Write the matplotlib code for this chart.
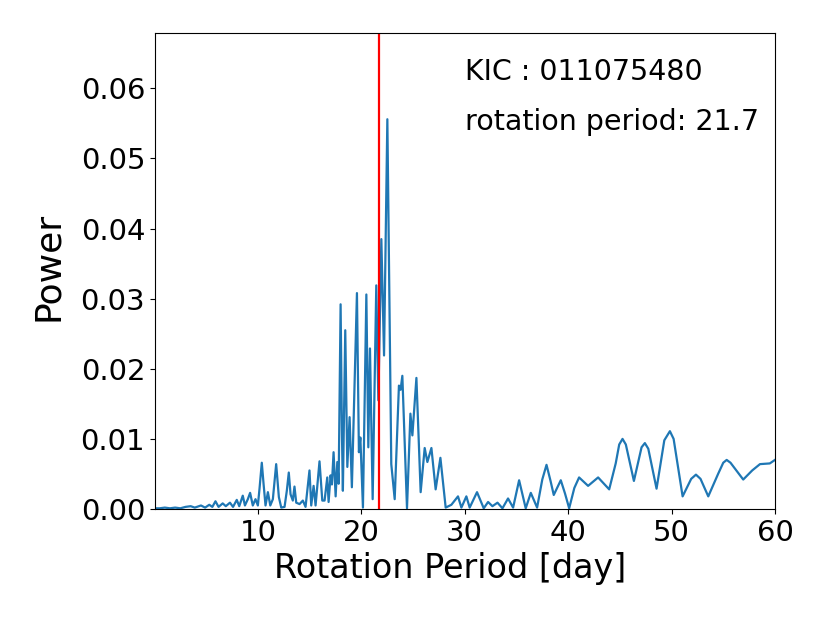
import matplotlib
matplotlib.use("Agg")
import matplotlib.pyplot as plt
import numpy as np

# periodogram (period in days, power)
period = [0.05, 0.5, 1.0, 1.5, 2.0, 2.5, 3.0, 3.5, 3.9, 4.5, 4.9, 5.3, 5.6, 5.9,
          6.2, 6.6, 6.9, 7.3, 7.6, 7.96, 8.2, 8.54, 8.75, 9.03, 9.25, 9.51, 9.77,
          10.0, 10.16, 10.38, 10.55, 10.74, 10.97, 11.2, 11.45, 11.77, 12.03,
          12.26, 12.58, 12.8, 12.99, 13.16, 13.38, 13.54, 13.71, 14.03, 14.35,
          14.61, 14.99, 15.16, 15.39, 15.58, 15.96, 16.23, 16.45, 16.71, 16.84,
          17.03, 17.16, 17.32, 17.52, 17.68, 17.81, 18.0, 18.13, 18.22, 18.45,
          18.65, 18.87, 19.09, 19.58, 19.77, 19.91, 20.16, 20.49, 20.68, 20.84,
          21.1, 21.45, 21.65, 21.94, 22.2, 22.52, 22.9, 23.23, 23.64, 23.8,
          23.97, 24.42, 24.75, 24.94, 25.33, 25.74, 26.13, 26.39, 26.78, 27.19,
          27.65, 28.16, 28.71, 29.35, 29.68, 30.16, 30.48, 31.19, 31.84, 32.26,
          32.68, 33.17, 33.65, 34.19, 34.68, 35.26, 35.9, 36.39, 37.0, 37.5,
          37.91, 38.3, 38.61, 39.29, 39.7, 40.1, 40.6, 41.06, 41.93, 42.9,
          43.97, 44.6, 44.94, 45.26, 45.58, 46.36, 47.1, 47.42, 47.75, 48.55,
          49.3, 49.84, 50.2, 51.07, 51.9, 52.36, 52.8, 53.55, 54.5, 55.0, 55.33,
          55.7, 56.93, 57.8, 58.55, 59.5, 60.0]
power = [0.0001, 0.0001, 0.0002, 0.0001, 0.0002, 0.0001, 0.0003, 0.0004, 0.0002,
         0.0005, 0.0002, 0.0006, 0.0003, 0.0011, 0.0003, 0.0008, 0.0004, 0.0009,
         0.0003, 0.0013, 0.0004, 0.0019, 0.0005, 0.0014, 0.0023, 0.0005, 0.0014,
         0.0005, 0.0029, 0.0066, 0.0036, 0.0005, 0.0024, 0.0005, 0.0014, 0.0064,
         0.0017, 0.0002, 0.0003, 0.0026, 0.0052, 0.0021, 0.0012, 0.0032, 0.0009,
         0.0007, 0.0012, 0.0003, 0.0055, 0.0005, 0.0033, 0.0005, 0.0068, 0.0012,
         0.0012, 0.0045, 0.0010, 0.0048, 0.0035, 0.0081, 0.0018, 0.0067, 0.0036,
         0.0292, 0.0107, 0.0026, 0.0255, 0.0060, 0.0131, 0.0031, 0.0308, 0.0081,
         0.0102, 0.0002, 0.0306, 0.0088, 0.0229, 0.0014, 0.0319, 0.0155, 0.0385,
         0.0219, 0.0556, 0.0064, 0.0014, 0.0176, 0.0170, 0.0190, 0.0001, 0.0136,
         0.0105, 0.0187, 0.0024, 0.0087, 0.0067, 0.0087, 0.0028, 0.0073, 0.0002,
         0.0006, 0.0018, 0.0002, 0.0018, 0.0002, 0.0024, 0.0001, 0.0010, 0.0004,
         0.0009, 0.0001, 0.0015, 0.0002, 0.0041, 0.0001, 0.0023, 0.0002, 0.0042,
         0.0063, 0.0040, 0.0020, 0.0041, 0.0022, 0.0001, 0.0030, 0.0045, 0.0033,
         0.0045, 0.0028, 0.0065, 0.0092, 0.0100, 0.0092, 0.0040, 0.0088, 0.0094,
         0.0086, 0.0029, 0.0098, 0.0111, 0.0100, 0.0018, 0.0043, 0.0049, 0.0043,
         0.0018, 0.0050, 0.0066, 0.0070, 0.0066, 0.0042, 0.0055, 0.0064, 0.0065,
         0.0070]
rot_period = 21.7
kic = "011075480"

fig = plt.figure(figsize=(8.3, 6.23), dpi=100)
ax = fig.add_axes([0.1867, 0.183, 0.747, 0.764])
ax.plot(period, power, color="#1f77b4", lw=1.6)
ax.axvline(rot_period, color="red", lw=1.6)
ax.text(30, 0.0612, "KIC : " + kic, fontsize=20.5)
ax.text(30, 0.054, "rotation period: " + str(rot_period), fontsize=20.5)
ax.set_xlim(0.05, 60)
ax.set_ylim(0, 0.0679)
ax.set_xlabel("Rotation Period [day]", fontsize=24, x=0.476)
ax.set_ylabel("Power", fontsize=26, labelpad=11, y=0.51)
ax.tick_params(labelsize=21)
fig.savefig("out.png", dpi=100)
